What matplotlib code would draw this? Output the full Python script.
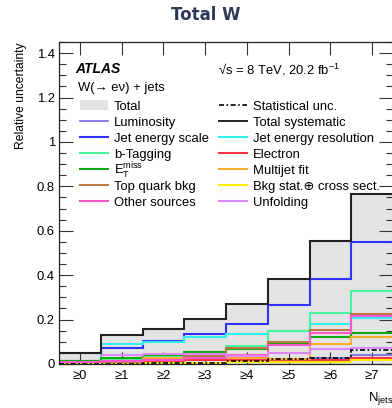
import numpy as np
import matplotlib
matplotlib.use("Agg")
import matplotlib.pyplot as plt
from matplotlib.lines import Line2D
from matplotlib.patches import Patch

plt.rcParams['font.family'] = ['Liberation Sans', 'DejaVu Sans']
plt.rcParams['mathtext.fontset'] = 'custom'
plt.rcParams['mathtext.rm'] = 'Liberation Sans'
plt.rcParams['mathtext.it'] = 'Liberation Sans:italic'
plt.rcParams['mathtext.bf'] = 'Liberation Sans:bold'

# ---- data: relative uncertainty per inclusive jet multiplicity bin ----
categories = ["≥0", "≥1", "≥2", "≥3", "≥4", "≥5", "≥6", "≥7"]
total        = [0.050, 0.130, 0.158, 0.202, 0.268, 0.383, 0.553, 0.765]
total_syst   = [0.050, 0.130, 0.158, 0.202, 0.268, 0.383, 0.553, 0.765]
statistical  = [0.001, 0.002, 0.003, 0.006, 0.012, 0.021, 0.026, 0.064]
luminosity   = [0.012, 0.013, 0.014, 0.016, 0.017, 0.019, 0.025, 0.041]
jes          = [0.012, 0.074, 0.103, 0.134, 0.182, 0.266, 0.383, 0.548]
jer          = [0.008, 0.088, 0.098, 0.122, 0.136, 0.148, 0.180, 0.207]
btag         = [0.006, 0.020, 0.030, 0.040, 0.083, 0.147, 0.229, 0.330]
electron     = [0.006, 0.010, 0.012, 0.018, 0.020, 0.019, 0.018, 0.027]
met          = [0.015, 0.027, 0.042, 0.056, 0.068, 0.092, 0.121, 0.138]
multijet     = [0.004, 0.012, 0.026, 0.026, 0.028, 0.022, 0.089, 0.120]
top_bkg      = [0.004, 0.010, 0.018, 0.035, 0.074, 0.101, 0.154, 0.224]
bkg_stat     = [0.001, 0.002, 0.004, 0.006, 0.009, 0.010, 0.011, 0.016]
other        = [0.008, 0.014, 0.020, 0.028, 0.040, 0.086, 0.140, 0.216]
unfolding    = [0.048, 0.042, 0.045, 0.047, 0.036, 0.049, 0.067, 0.071]

edges = np.arange(len(categories) + 1) - 0.5
centers = np.arange(len(categories))

fig = plt.figure(figsize=(3.92, 4.08), dpi=100)
ax = fig.add_axes([59 / 392, 1 - 364 / 408, 334 / 392, 322 / 408])

# total uncertainty band
ax.stairs(total, edges, fill=True, color='#e4e4e4', zorder=1)

components = [
    (luminosity, '#7766dd', '-', 1.2),
    (jes, '#3333ff', '-', 1.5),
    (jer, '#33eeee', '-', 1.5),
    (btag, '#44f5a0', '-', 1.5),
    (electron, '#ff3344', '-', 1.5),
    (met, '#11aa11', '-', 1.5),
    (multijet, '#ffaa33', '-', 1.5),
    (top_bkg, '#bb7744', '-', 1.5),
    (bkg_stat, '#ffee00', '-', 1.5),
    (other, '#ff55cc', '-', 1.5),
    (unfolding, '#dd88ff', '-', 1.5),
]
for vals, col, ls, lw in components:
    ax.stairs(vals, edges, baseline=None, color=col, linestyle=ls, lw=lw, zorder=2)
ax.stairs(statistical, edges, baseline=None, color='black',
          linestyle=(0, (3, 1.5, 1, 1.5)), lw=1.2, zorder=3)
ax.stairs(total_syst, edges, baseline=None, color='#222222', lw=1.5, zorder=3)

ax.set_xlim(edges[0], edges[-1])
ax.set_ylim(0, 1.45)
ax.set_xticks(centers)
ax.set_xticklabels(categories)
ax.set_yticks(np.arange(0, 1.41, 0.2))
ax.set_yticklabels(["0", "0.2", "0.4", "0.6", "0.8", "1", "1.2", "1.4"])
ax.set_yticks(np.arange(0, 1.451, 0.05), minor=True)
ax.tick_params(axis='both', which='both', direction='in', top=True, right=True,
               labelsize=9.4, width=0.8, color='#333333')
ax.tick_params(axis='y', which='major', length=10, pad=3)
ax.tick_params(axis='y', which='minor', length=5)
ax.tick_params(axis='x', which='major', length=9, pad=4)
for sp in ax.spines.values():
    sp.set_linewidth(0.9)
    sp.set_color('#222222')

ax.set_ylabel('Relative uncertainty', loc='top', fontsize=8.7, labelpad=7)
ax.set_xlabel(r'$\mathrm{N}_{\mathrm{jets}}$', loc='right', fontsize=9.4, labelpad=6)

fig.text(206 / 392, 1 - 15.5 / 408, 'Total W', ha='center', va='center',
         fontsize=12, fontweight='bold', color='#2c3a58', family='DejaVu Sans')

ax.text(0.048, 0.915, 'ATLAS', transform=ax.transAxes, fontsize=10,
        fontweight='bold', fontstyle='italic', va='center', ha='left')
ax.text(0.477, 0.913, '√s = 8 TeV, 20.2 fb$^{-1}$', transform=ax.transAxes,
        fontsize=9.4, va='center', ha='left')
ax.text(0.057, 0.857, 'W(→ eν) + jets', transform=ax.transAxes,
        fontsize=9.4, va='center', ha='left')

def lh(col, ls='-', lw=1.5):
    return Line2D([], [], color=col, linestyle=ls, lw=lw)

# the missing-ET entry is labelled separately so its super/subscripts
# do not stretch the legend row spacing
left_handles = [Patch(facecolor='#e4e4e4', edgecolor='none'),
                lh('#7766dd', lw=1.2), lh('#3333ff'), lh('#44f5a0'),
                lh('#11aa11'), lh('#bb7744'), lh('#ff55cc')]
left_labels = ['Total', 'Luminosity', 'Jet energy scale', 'b-Tagging',
               ' ', 'Top quark bkg', 'Other sources']
right_handles = [lh('black', (0, (3, 1.5, 1, 1.5)), 1.2), lh('#222222', lw=1.4),
                 lh('#33eeee'), lh('#ff3344'), lh('#ffaa33'), lh('#ffee00'),
                 lh('#dd88ff')]
right_labels = ['Statistical unc.', 'Total systematic', 'Jet energy resolution',
                'Electron', 'Multijet fit', 'Bkg stat.⊕ cross sect.', 'Unfolding']

leg_kw = dict(frameon=False, fontsize=9.4, handlelength=2.15, handleheight=0.8,
              handletextpad=0.46, labelspacing=0.27, borderpad=0, borderaxespad=0,
              loc='upper left')
leg1 = ax.legend(left_handles, left_labels, bbox_to_anchor=(0.0629, 0.8195), **leg_kw)
ax.add_artist(leg1)
ax.legend(right_handles, right_labels, bbox_to_anchor=(0.479, 0.8195), **leg_kw)

ax.text((114 - 59) / 334, (364 - 170.5) / 322, r'E$_{\mathrm{T}}^{\mathrm{miss}}$',
        transform=ax.transAxes, fontsize=9.4, va='center', ha='left')

fig.savefig('out.png', dpi=100)
